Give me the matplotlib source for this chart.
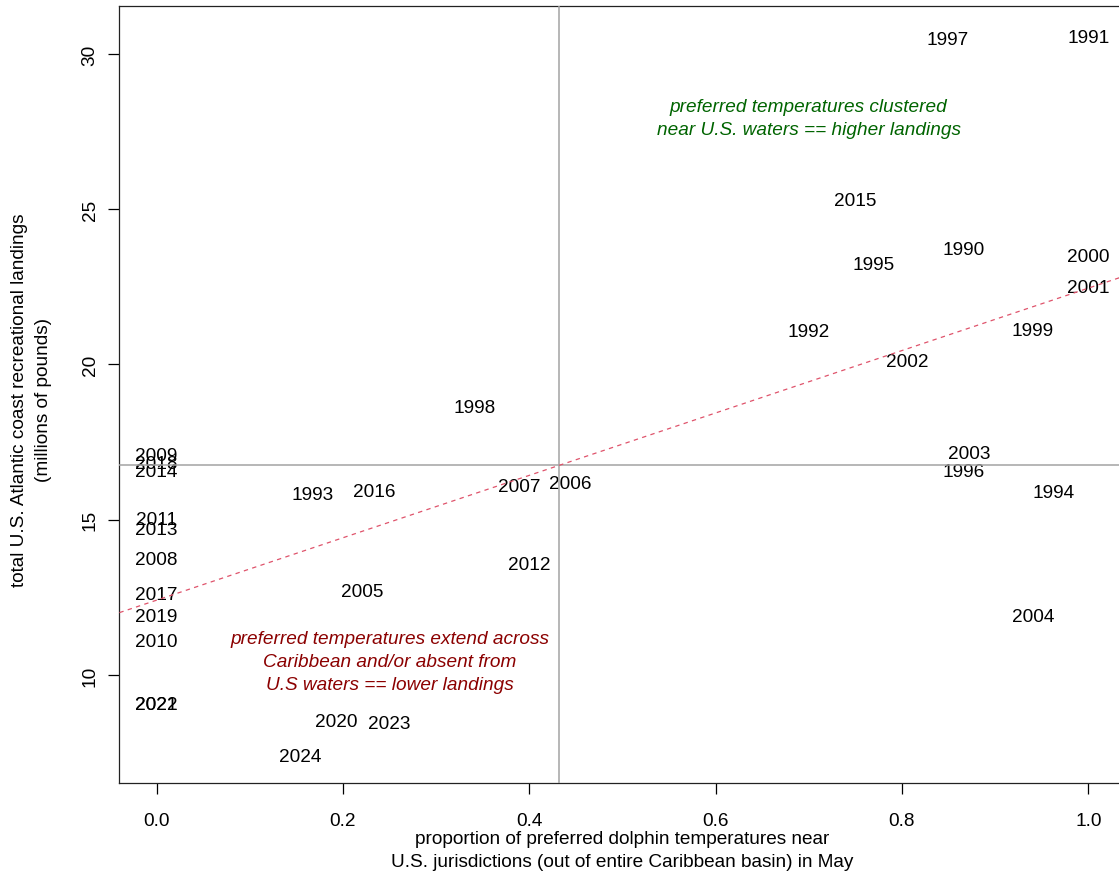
import numpy as np
import matplotlib
matplotlib.use("Agg")
import matplotlib.pyplot as plt

# Dolphin (mahi-mahi) landings vs. share of preferred May temperatures near U.S. waters
years = [1990, 1991, 1992, 1993, 1994, 1995, 1996, 1997, 1998, 1999,
         2000, 2001, 2002, 2003, 2004, 2005, 2006, 2007, 2008, 2009,
         2010, 2011, 2012, 2013, 2014, 2015, 2016, 2017, 2018, 2019,
         2020, 2021, 2022, 2023, 2024]
proportion = [0.866, 1.000, 0.700, 0.167, 0.963, 0.770, 0.866, 0.849, 0.341, 0.940,
              1.000, 1.000, 0.806, 0.872, 0.941, 0.221, 0.444, 0.389, 0.000, 0.000,
              0.000, 0.000, 0.400, 0.000, 0.000, 0.750, 0.234, 0.000, 0.000, 0.000,
              0.193, 0.000, 0.000, 0.250, 0.154]
landings = [23.78, 30.62, 21.14, 15.89, 15.96, 23.30, 16.64, 30.54, 18.69, 21.17,
            23.55, 22.55, 20.17, 17.22, 11.96, 12.77, 16.24, 16.13, 13.79, 17.15,
            11.14, 15.08, 13.64, 14.77, 16.61, 25.36, 15.99, 12.67, 16.89, 11.96,
            8.58, 9.13, 9.13, 8.52, 7.46]

x_ticks = [0.0, 0.2, 0.4, 0.6, 0.8, 1.0]
x_tick_labels = ["0.0", "0.2", "0.4", "0.6", "0.8", "1.0"]
y_ticks = [10, 15, 20, 25, 30]
y_tick_labels = ["10", "15", "20", "25", "30"]

x_label = ["proportion of preferred dolphin temperatures near",
           "U.S. jurisdictions (out of entire Caribbean basin) in May"]
y_label = ["total U.S. Atlantic coast recreational landings",
           "(millions of pounds)"]

high_note = ["preferred temperatures clustered",
             "near U.S. waters == higher landings"]
high_note_at = (0.70, 28.0)
low_note = ["preferred temperatures extend across",
            "Caribbean and/or absent from",
            "U.S waters == lower landings"]
low_note_at = (0.25, 10.5)

plt.rcParams["font.family"] = ["Liberation Sans", "DejaVu Sans"]
FS = 13.7

W, H = 1119, 878
fig = plt.figure(figsize=(W / 100, H / 100), dpi=100)
ax = fig.add_axes([119.4 / W, (H - 783.5) / H, (1125.6 - 119.4) / W, (783.5 - 7) / H])

x = np.asarray(proportion)
y = np.asarray(landings)

# axis limits padded by 4% of the data range
xr = x.max() - x.min()
yr = y.max() - y.min()
ax.set_xlim(x.min() - 0.04 * xr, x.max() + 0.04 * xr)
ax.set_ylim(y.min() - 0.04 * yr, y.max() + 0.04 * yr)


def centered_text(lines, at, color, style="normal"):
    """Multi-line text block whose middle sits on the data point."""
    n = len(lines)
    step = 1.2 * FS
    for i, line in enumerate(lines):
        dy = ((n - 1) / 2 - i) * step - 0.358 * FS
        ax.annotate(line, at, xytext=(0, dy), textcoords="offset points",
                    ha="center", va="baseline", fontsize=FS, color=color,
                    fontstyle=style, annotation_clip=False, zorder=2)


# year labels used as plotting symbols
for yr_, xi, yi in zip(years, x, y):
    centered_text([str(yr_)], (xi, yi), "black")

# reference lines: means and least-squares fit
ax.axvline(x.mean(), color="#a3a3a3", lw=1.1, zorder=3)
ax.axhline(y.mean(), color="#a3a3a3", lw=1.1, zorder=3)
slope, intercept = np.polyfit(x, y, 1)
ax.axline((0, intercept), slope=slope, color="#DF536B", lw=0.9,
          ls=(0, (3.5, 3.5)), zorder=3)

centered_text(high_note, high_note_at, "darkgreen", "italic")
centered_text(low_note, low_note_at, "darkred", "italic")

ax.set_xticks(x_ticks, labels=x_tick_labels)
ax.set_yticks(y_ticks, labels=y_tick_labels)
ax.tick_params(axis="both", direction="out", length=8, width=0.9,
               labelsize=FS, colors="black")
ax.tick_params(axis="x", pad=13.5)
ax.tick_params(axis="y", pad=7)
plt.setp(ax.get_yticklabels(), rotation=90, va="center", ha="right")
for s in ax.spines.values():
    s.set_linewidth(0.9)
    s.set_color("#222222")

# axis titles, one text per line
for i, line in enumerate(x_label):
    fig.text(622.5 / W, 1 - (839.5 + 23.5 * i) / H, line, ha="center",
             va="center", fontsize=FS)
for i, line in enumerate(y_label):
    fig.text((20 + 24 * i) / W, 1 - 400 / H, line, ha="center",
             va="center", fontsize=FS, rotation=90)

fig.savefig("out.png", dpi=100)
